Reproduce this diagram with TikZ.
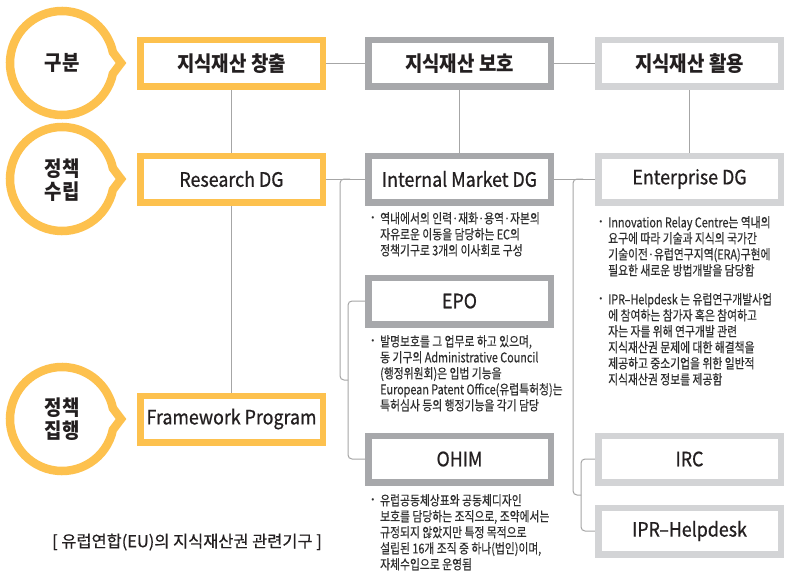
\documentclass[tikz,border=0pt]{standalone}
\usepackage{fontspec}
\setmainfont{Noto Sans CJK KR}
\newfontfamily\krt[FakeStretch=0.9]{Noto Sans CJK KR}
\newfontfamily\krm[FakeStretch=0.9,FakeBold=0.7]{Noto Sans CJK KR}
\newfontfamily\krc[FakeBold=0.5]{Noto Sans CJK KR}
\newfontfamily\krb[FakeStretch=0.8,FakeBold=0.3]{Noto Sans CJK KR}
\usetikzlibrary{backgrounds}
\definecolor{ylw}{HTML}{FDC14E}
\definecolor{dgr}{HTML}{A7A8AB}
\definecolor{lgr}{HTML}{D3D4D6}
\definecolor{lin}{HTML}{A6A6A6}
\definecolor{txt}{HTML}{231F20}
\definecolor{btxt}{HTML}{2E2E2E}
\tikzset{
  box/.style={draw, line width=6.5pt, fill=white, minimum width=182.5pt, minimum height=46.5pt, inner sep=0pt, text=txt},
  ybox/.style={box, draw=ylw},
  gbox/.style={box, draw=dgr},
  lbox/.style={box, draw=lgr},
  ttl/.style={font=\krt\bfseries\fontsize{21}{24}\selectfont},
  ltl/.style={font=\krm\fontsize{19.8}{22}\selectfont},
  conn/.style={draw=lin, line width=1pt},
  ring/.style={draw=ylw, line width=8.5pt, fill=white, line join=miter},
  clab/.style={font=\krt\bfseries\fontsize{21}{23}\selectfont, align=center, text=txt, inner sep=0pt},
  body/.style={font=\krb\fontsize{13.5}{16}\selectfont, text=btxt, align=left, anchor=north west, inner sep=0pt},
  bul/.style={font=\fontsize{9}{9}\selectfont, text=btxt, inner sep=0pt},
  capt/.style={font=\krc\fontsize{16.4}{19}\selectfont, text=txt, inner sep=0pt}
}
\begin{document}
\begin{tikzpicture}[x=1pt,y=-1pt]
\useasboundingbox (0,0) rectangle (789,575);

% boxes
\node[ybox,ttl] (p1) at (231.5,63.5) {지식재산 창출};
\node[gbox,ttl] (p2) at (459.5,63.5) {지식재산 보호};
\node[lbox,ttl] (p3) at (689.5,63.5) {지식재산 활용};
\node[ybox,ltl] (r1) at (231.5,179) {Research DG};
\node[gbox,ltl] (im) at (459.5,179) {Internal Market DG};
\node[lbox,ltl] (ent) at (689.5,179) {Enterprise DG};
\node[gbox,ltl] (epo) at (459.5,301) {EPO};
\node[ybox,ltl] (fp) at (231.5,419) {Framework Program};
\node[gbox,ltl] (ohim) at (459.5,459) {OHIM};
\node[lbox,ltl] (irc) at (689.5,459) {IRC};
\node[lbox,ltl] (ipr) at (689.5,531) {IPR–Helpdesk};

% circles
\foreach \cy in {63,179,419}{
  \draw[ring] (62,\cy) ++(12:52) arc[start angle=12,end angle=348,radius=52] -- (121,\cy) -- cycle;
}
\node[clab] (l1) at (62,63) {구분};
\node[clab] (l2) at (62,180) {정책\\수립};
\node[clab] (l3) at (62,419) {정책\\집행};

% connectors
\coordinate (la) at (350,179);
\coordinate (lb) at (340,380);
\coordinate (lm) at (348,380);
\coordinate (ra) at (583,179);
\coordinate (rb) at (573,495);
\coordinate (rm) at (581,495);
\begin{pgfonlayer}{background}
\fill[white] (0,0) rectangle (789,575);
\draw[conn] (p1) -- (p2);
\draw[conn] (p2) -- (p3);
\draw[conn] (p1) -- (r1);
\draw[conn] (r1) -- (fp);
\draw[conn] (p2) -- (im);
\draw[conn] (p3) -- (ent);
\draw[conn] (r1) -- (im);
\draw[conn] (im) -- (ent);
\draw[conn, rounded corners=4] (la) -| (lb) -- (lm);
\draw[conn, rounded corners=4] (epo.west) -| (lm) |- (ohim.west);
\draw[conn, rounded corners=4] (ra) -| (rb) -- (rm);
\draw[conn, rounded corners=4] (irc.west) -| (rm) |- (ipr.west);
\end{pgfonlayer}

% texts
\node[bul] (b1) at (373,219) {•};
\node[body] (t1) at (380,212) {역내에서의 인력·재화·용역·자본의\\자유로운 이동을 담당하는 EC의\\정책기구로 3개의 이사회로 구성};
\node[bul] (b2) at (373,342) {•};
\node[body] (t2) at (380,335) {발명보호를 그 업무로 하고 있으며,\\동 기구의 Administrative Council\\(행정위원회)은 입법 기능을\\European Patent Office(유럽특허청)는\\특허심사 등의 행정기능을 각기 담당};
\node[bul] (b3) at (373,501) {•};
\node[body] (t3) at (380,494) {유럽공동체상표와 공동체디자인\\보호를 담당하는 조직으로, 조약에서는\\규정되지 않았지만 특정 목적으로\\설립된 16개 조직 중 하나(법인)이며,\\자체수입으로 운영됨};
\node[bul] (b4) at (601,223) {•};
\node[body] (t4) at (608,216) {Innovation Relay Centre는 역내의\\요구에 따라 기술과 지식의 국가간\\기술이전·유럽연구지역(ERA)구현에\\필요한 새로운 방법개발을 담당함};
\node[bul] (b5) at (601,300) {•};
\node[body] (t5) at (608,293) {IPR–Helpdesk 는 유럽연구개발사업\\에 참여하는 참가자 혹은 참여하고\\자는 자를 위해 연구개발 관련\\지식재산권 문제에 대한 해결책을\\제공하고 중소기업을 위한 일반적\\지식재산권 정보를 제공함};

\node[capt] (cap) at (187,542) {[ 유럽연합(EU)의 지식재산권 관련기구 ]};
\end{tikzpicture}
\end{document}
